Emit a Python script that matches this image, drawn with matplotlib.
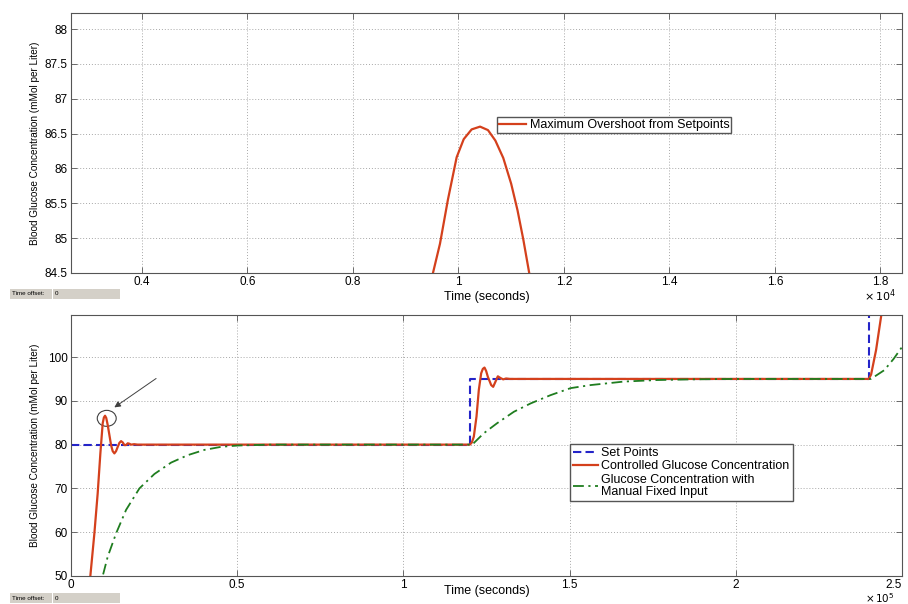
import numpy as np
import matplotlib
matplotlib.use('Agg')
import matplotlib.pyplot as plt
from matplotlib.patches import Ellipse, Rectangle
from matplotlib.ticker import FuncFormatter

plt.rcParams['font.family'] = ['Liberation Sans', 'DejaVu Sans']

# top panel: zoom on the first overshoot
peak_t = [9400, 9517, 9650, 9800, 9966, 10100, 10250, 10410, 10560, 10700,
          10850, 11000, 11120, 11230, 11342, 11450]
peak_y = [84.0, 84.5, 84.92, 85.55, 86.16, 86.42, 86.56, 86.6, 86.55, 86.4,
          86.15, 85.78, 85.4, 84.98, 84.5, 84.0]

# bottom panel
sp_t = [0, 120000, 120000, 240000, 240000, 250000]
sp_y = [80, 80, 95, 95, 120, 120]

ctrl_t = [4600, 5820, 7030, 8030, 8835, 9540, 9900, 10240, 10600, 11040,
          11550, 12050, 12550, 13050, 13550, 14060, 14560, 15060, 15560, 16060,
          16560, 17070, 17570, 18070, 19000, 20000,
          120000, 120600, 121180, 121990, 122690, 123400, 123900, 124400, 124900, 125400,
          126410, 127010, 127710, 128410, 129220, 130020, 130900, 132000,
          240000, 240700, 242200, 243700, 245000]
ctrl_y = [40.0, 50.0, 59.7, 68.9, 78.0, 84.9, 86.2, 86.6, 86.1, 84.5,
          82.2, 79.9, 78.5, 78.0, 78.5, 79.5, 80.4, 80.8, 80.5, 79.9,
          79.9, 80.3, 80.2, 80.0, 80.1, 80.0,
          80.0, 80.5, 81.8, 86.4, 92.5, 96.3, 97.3, 97.6, 96.8, 95.5,
          93.6, 93.2, 94.4, 95.6, 95.2, 94.9, 95.1, 95.0,
          95.0, 96.0, 101.6, 109.2, 116.0]

man_t = [8000, 9540, 11040, 13550, 16570, 20580, 25100, 30120, 35140, 40160,
         45180, 50200, 60200, 120000, 120700, 124190, 128210, 133230, 138250, 144280,
         150300, 156330, 166370, 176400, 186450, 199500, 240000, 240660, 244670, 247500,
         250100]
man_y = [45.5, 50.0, 54.4, 59.7, 65.1, 70.0, 73.3, 75.9, 77.6, 78.8,
         79.5, 79.8, 80.0, 80.0, 80.0, 82.6, 84.9, 87.5, 89.4, 91.3,
         92.9, 93.6, 94.4, 94.75, 94.9, 95.0, 95.0, 95.0, 97.0, 99.6,
         102.4]

top_xticks = [4000, 6000, 8000, 10000, 12000, 14000, 16000, 18000]
top_yticks = [84.5, 85, 85.5, 86, 86.5, 87, 87.5, 88]
bot_xticks = [0, 50000, 100000, 150000, 200000, 250000]
bot_yticks = [50, 60, 70, 80, 90, 100]

red = '#d4401c'
blue = '#2424c8'
green = '#1f7d1f'
W, H = 908, 604

fig = plt.figure(figsize=(W / 100, H / 100), dpi=100)
ax1 = fig.add_axes([71 / W, 1 - 273 / H, 831 / W, 260 / H])
ax2 = fig.add_axes([71 / W, 1 - 576 / H, 831 / W, 261 / H])


def style(ax, xt, yt, scale, lpad):
    ax.set_xticks(xt)
    ax.set_yticks(yt)
    ax.xaxis.set_major_formatter(FuncFormatter(lambda v, p: '%g' % round(v / scale, 4)))
    ax.yaxis.set_major_formatter(FuncFormatter(lambda v, p: '%g' % v))
    ax.tick_params(direction='in', top=True, right=True, length=4, width=0.6,
                   color='#555555', labelsize=8.5)
    ax.tick_params(axis='x', pad=2.5)
    ax.tick_params(axis='y', pad=2.5)
    ax.grid(True, linestyle=(0, (1, 2)), color='#a8a8a8', linewidth=0.7)
    for s in ax.spines.values():
        s.set_color('#555555')
        s.set_linewidth(0.8)
    ax.set_xlabel('Time (seconds)', fontsize=9, labelpad=lpad)
    ax.set_ylabel('Blood Glucose Concentration (mMol per Liter)', fontsize=7.2)
    ax.yaxis.set_label_coords(-0.0373, 0.5)


# top
ax1.plot(peak_t, peak_y, color=red, lw=1.6, label='Maximum Overshoot from Setpoints')
ax1.set_xlim(2654, 18410)
ax1.set_ylim(84.5, 88.23)
style(ax1, top_xticks, top_yticks, 1e4, 1.5)
ax1.legend(loc='upper left', bbox_to_anchor=(497 / W, 1 - 117 / H),
           bbox_transform=fig.transFigure, fontsize=9, fancybox=False,
           edgecolor='#555555', framealpha=1, borderaxespad=0, borderpad=0.15,
           handlelength=2.2, handletextpad=0.25)

# bottom
ax2.plot(sp_t, sp_y, color=blue, lw=1.5, ls=(0, (4, 2)), label='Set Points')
ax2.plot(ctrl_t, ctrl_y, color=red, lw=1.6, label='Controlled Glucose Concentration')
ax2.plot(man_t, man_y, color=green, lw=1.3, ls=(0, (6, 2.5, 1.2, 2.5)),
         label='Glucose Concentration with\nManual Fixed Input')
ax2.set_xlim(0, 250000)
ax2.set_ylim(50, 109.6)
style(ax2, bot_xticks, bot_yticks, 1e5, -4.5)
# keep the last tick label inside the figure
fig.canvas.draw()
ax2.get_xticklabels()[-1].set_horizontalalignment('right')
leg = ax2.legend(loc='upper left', bbox_to_anchor=(570 / W, 1 - 444 / H),
                 bbox_transform=fig.transFigure, fontsize=9, fancybox=False,
                 edgecolor='#555555', framealpha=1, borderaxespad=0, borderpad=0.25,
                 labelspacing=0.1, handlelength=2.0, handletextpad=0.25)
for t in leg.get_texts():
    t.set_linespacing(1.05)

# annotation on the first overshoot
ax2.add_patch(Ellipse((10750, 86.0), 5700, 3.65, fill=False, ec='#404040', lw=0.8))
ax2.annotate('', xy=(13040, 88.5), xytext=(25600, 95.1),
             arrowprops=dict(arrowstyle='-|>', color='#404040', lw=0.7,
                             mutation_scale=9, shrinkA=0, shrinkB=0))

# x10^n multipliers
fig.text(880 / W, 1 - 296 / H, r'$\times\,10^4$', fontsize=8, ha='center', va='center')
fig.text(880 / W, 1 - 598.5 / H, r'$\times\,10^5$', fontsize=7.5, ha='center', va='center')

# "Time offset" boxes
for ytop in [289, 593]:
    fig.patches.append(Rectangle((10 / W, 1 - (ytop + 10) / H), 42 / W, 10 / H,
                                 transform=fig.transFigure, fc='#d4d0c8', ec='none'))
    fig.patches.append(Rectangle((53 / W, 1 - (ytop + 10) / H), 67 / W, 10 / H,
                                 transform=fig.transFigure, fc='#d4d0c8', ec='none'))
    fig.text(12 / W, 1 - (ytop + 5) / H, 'Time offset:', fontsize=4.5, va='center')
    fig.text(55 / W, 1 - (ytop + 5) / H, '0', fontsize=4.5, va='center')

fig.savefig('out.png', dpi=100)
